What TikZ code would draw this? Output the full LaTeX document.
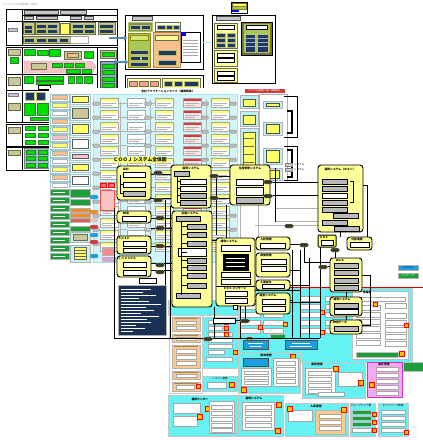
\documentclass[tikz,border=0pt]{standalone}
\usepackage{fontspec}
\newfontfamily\jp{Noto Sans CJK JP}
\usetikzlibrary{arrows.meta}
\definecolor{navy}{HTML}{1F3864}
\definecolor{nvb}{HTML}{B8C26A}
\definecolor{lime}{HTML}{00E000}
\definecolor{dgreen}{HTML}{2E7D32}
\definecolor{khaki}{HTML}{C8C89A}
\definecolor{khakid}{HTML}{6E6E46}
\definecolor{ylw}{HTML}{FFFF99}
\definecolor{ylwb}{HTML}{FFFF66}
\definecolor{peach}{HTML}{F8C08C}
\definecolor{pinkc}{HTML}{F4C4C4}
\definecolor{steel}{HTML}{5A86B8}
\definecolor{ygreen}{HTML}{A8C95A}
\definecolor{lcyan}{HTML}{D2F5FA}
\definecolor{mcyan}{HTML}{9FE9F2}
\definecolor{bcyan}{HTML}{66F2F2}
\definecolor{sgreen}{HTML}{1E9E3A}
\definecolor{orng}{HTML}{F9C98E}
\definecolor{orngd}{HTML}{C08040}
\definecolor{orngb}{HTML}{F28C28}
\definecolor{dbol}{HTML}{3A3A22}
\definecolor{bblue}{HTML}{1AA0E0}
\definecolor{mag}{HTML}{F7A6F2}
\definecolor{magd}{HTML}{CC33CC}
\definecolor{redh}{HTML}{D23A3A}
\definecolor{badgeo}{HTML}{FFC000}
\definecolor{gbl}{HTML}{8CA8CC}
\newcommand\bx[3]{\path[#1] (#2) rectangle ++(#3);}
\begin{document}
\begin{tikzpicture}[x=1pt,y=-1pt,
 frame/.style={draw=black,line width=0.7pt,fill=white},
 nv/.style={fill=navy,draw=nvb,line width=0.4pt},
 gr/.style={fill=lime,draw=dgreen,line width=0.3pt},
 kh/.style={fill=khaki,draw=khakid,line width=0.4pt},
 gh/.style={fill=gray!45,draw=gray!60!black,line width=0.3pt},
 wb/.style={fill=white,draw=gray!70,line width=0.3pt},
 wbk/.style={fill=white,draw=black,line width=0.4pt},
 gbk/.style={fill=gray!55,draw=black,line width=0.4pt},
 grp/.style={fill=ylw,draw=black,line width=0.9pt,rounded corners=3pt},
 db/.style={fill=dbol,draw=gray!50,line width=0.3pt,rounded corners=1.5pt},
 cyb/.style={fill=mcyan,draw=gray!50,line width=0.3pt},
 cyp/.style={fill=bcyan,draw=gray!45,line width=0.5pt},
 bdg/.style={fill=badgeo,draw=red,line width=0.4pt},
 conn/.style={draw=black,line width=0.35pt},
 gconn/.style={draw=gray!60,line width=0.35pt},
 tt/.style={font=\jp\fontsize{2.6}{3}\selectfont,inner sep=0pt},
 ht/.style={font=\jp\bfseries\fontsize{2.8}{3}\selectfont,inner sep=0pt},
]
\useasboundingbox (0,0) rectangle (423,440);
\fill[white] (0,0) rectangle (423,440);
\node[tt,anchor=west,text=gray!80] (cap) at (3,4.5) {ITシステム全体構成図（現状）};

% ================= Frame A
\bx{frame}{6,9}{111,36}
\draw[line width=0.5pt] (22,9)--(22,45) (22,15)--(117,15) (6,21)--(117,21);
\bx{gh}{24,10.5}{34,3.5}
\bx{gh}{60,10.5}{26,3.5}
\bx{gh}{24,16.5}{9,3}
\bx{gh}{36,16.5}{21,3}
\bx{gh}{70,16.5}{11,3}
\bx{gh}{84,16.5}{9,3}
\bx{fill=gbl!60,draw=gray}{8,28}{9,3}
\bx{kh}{23,22}{11,12}
\bx{nv}{24.5,25}{8,4} \bx{nv}{24.5,29.5}{8,4}
\bx{kh}{35,22}{24,12}
\bx{nv}{36.5,24}{10,4} \bx{nv}{47.5,24}{10,4} \bx{nv}{36.5,29}{10,4} \bx{nv}{47.5,29}{10,4}
\bx{fill=ylwb,draw=khakid,line width=0.4pt}{60,23}{9,11}
\bx{kh}{70.5,22.5}{25,11.5}
\bx{nv}{72,24}{11,4} \bx{nv}{84,24}{10,4} \bx{nv}{72,29}{11,4} \bx{nv}{84,29}{10,4}
\bx{kh}{98,22.5}{17,11.5}
\bx{nv}{99.5,24.5}{14,4} \bx{nv}{99.5,29}{14,4}
\bx{kh}{23,36.5}{47,7}
\bx{nv}{24.5,38}{10,4} \bx{nv}{36,38}{10,4} \bx{nv}{47.5,38}{10,4} \bx{nv}{59,38}{9.5,4}
\bx{wb}{70.5,36}{18,7}

% ================= Frame B
\bx{frame}{6,47}{111,43}
\draw[line width=0.5pt] (22,47)--(22,90) (6,74)--(97,74) (97,47)--(97,90);
\bx{kh}{8,49}{12,6} \bx{gr}{10,57}{8,6} \bx{kh}{8,77}{12,8}
\bx{gr}{24,49}{11,6} \bx{gr}{37,50}{11,5} \bx{gr}{49,49}{11,7}
\bx{kh}{64,51}{17,8} \bx{fill=peach,draw=khakid,line width=0.3pt}{67,53}{11,4}
\bx{gr}{84,51}{9,7}
\path[fill=pinkc,draw=gray!60,line width=0.3pt] (24,61)--(92,61)--(96,67)--(92,73)--(24,73)--cycle;
\bx{kh}{31,63.5}{15,6}
\bx{gr}{52,63}{10,4} \bx{gr}{64,63}{9,4} \bx{gr}{75,63}{9,4} \bx{gr}{66,69}{14,4} \bx{gr}{82,69}{9,4}
\bx{gr}{24,76.5}{9,7} \bx{gr}{36,76.5}{27,4} \bx{gr}{36,81.5}{27,3}
\bx{gr}{68,76.5}{6,7} \bx{gr}{76,76.5}{6,7} \bx{gr}{84,76.5}{8,7}
\bx{wbk}{38,85}{12,4}
\bx{kh}{100,50}{16,8} \bx{gr}{102,52}{12,4}
\bx{fill=gbl,draw=gray!60!black,line width=0.4pt}{100,61}{16,27}
\bx{gr}{102,64}{12,4} \bx{gr}{102,70}{12,4} \bx{gr}{102,77}{12,4} \bx{gr}{102,83}{12,4}

% ================= Frame C, D, E
\bx{frame}{6,90}{111,32}
\draw[line width=0.5pt] (22,90)--(22,122);
\bx{fill=gbl!60,draw=gray}{8,93}{10,3.5} \bx{kh}{8,103}{12,7}
\bx{nv}{25,92}{9,8} \bx{nv}{36,92}{9,8}
\bx{gr}{24,103}{11,12} \bx{gr}{37,103}{11,12} \bx{gr}{30,117}{18,3}
\bx{frame}{6,124}{111,22}
\draw[line width=0.5pt] (22,124)--(22,146);
\bx{kh}{8,127}{12,6}
\foreach \yy in {126,133,140}{\bx{gr}{25,\yy}{10,4} \bx{gr}{38,\yy}{10,4}}
\bx{frame}{6,147}{111,23}
\draw[line width=0.5pt] (22,147)--(22,170);
\bx{kh}{8,150}{12,5}
\bx{fill=gbl!80,draw=gray}{24,148.5}{25,20}
\foreach \yy in {150,156.5,163}{\bx{gr}{26,\yy}{9,4} \bx{gr}{38,\yy}{9,4}}

% ================= Top middle frame
\bx{frame}{125,15}{78,54}
\bx{gh}{132,16}{20,4}
\bx{fill=khakid!80,draw=ygreen,line width=0.5pt}{128,22}{24,9}
\bx{nv}{130,25}{10,4.5} \bx{nv}{141,25}{9,4.5}
\bx{fill=white,draw=khakid,line width=0.6pt}{155,22}{25,9}
\bx{nv}{157,25}{8,4.5} \bx{nv}{166,25}{6,4.5} \bx{nv}{173,25}{6,4.5}
\bx{fill=ygreen,draw=olive,line width=0.5pt}{128,33}{22,34}
\bx{fill=ygreen!50!ylw,draw=olive,line width=0.3pt}{130,35}{18,5}
\bx{nv}{130,50}{18,4} \bx{nv}{130,56}{10,4.5} \bx{nv}{141,56}{7,4.5} \bx{nv}{130,62}{18,4}
\bx{fill=peach,draw=orngd,line width=0.5pt}{153,32}{27,35}
\bx{fill=ylw,draw=khakid,line width=0.3pt}{155,35}{23,5}
\bx{nv}{158,50}{18,5} \bx{nv}{158,60}{18,5}
\bx{fill=white,draw=black,line width=0.4pt}{181,32}{19,30}
\foreach \yy in {40,43,46,49,52,55}{\draw[gray!70,line width=0.3pt] (183,\yy)--(198,\yy);}
\bx{fill=blue,draw=none}{181,32}{5,4}
\draw[mcyan,line width=0.3pt] (203,42)--(212,42);
\coordinate (aA1) at (109,38); \coordinate (aA2) at (127,38);
\coordinate (aB1) at (113,62); \coordinate (aB2) at (128,62);
\draw[steel,line width=2.2pt,-{Triangle[length=3pt,width=5.5pt]}] (aA1)--(aA2);
\draw[steel,line width=2.6pt,{Triangle[length=3pt,width=6pt]}-{Triangle[length=3pt,width=6pt]}] (aB1)--(aB2);

\bx{frame}{125,75}{78,17}
\bx{fill=ylw!60,draw=khakid,line width=0.4pt}{127,78}{33,10}
\bx{fill=pinkc!80!red,draw=khakid,line width=0.3pt}{129,81}{8,5}
\bx{fill=pinkc!80!red,draw=khakid,line width=0.3pt}{139,81}{9,5}
\bx{fill=pinkc!80!red,draw=khakid,line width=0.3pt}{150,81}{8,5}
\bx{fill=ylw,draw=khakid,line width=0.4pt}{162,78}{38,10}
\bx{nv}{164,81}{8,5} \bx{nv}{174,81}{8,5} \bx{nv}{184,81}{14,5}

% ================= Top right frame + legend
\bx{frame}{212,15}{63,68}
\bx{gh}{216,16}{24,4}
\bx{fill=ylw,draw=khakid,line width=0.5pt}{214,23}{23,25}
\bx{wbk}{217,25.5}{17,4}
\foreach \yy in {33,38,43}{\bx{nv}{216,\yy}{9,4} \bx{nv}{227,\yy}{8,4}}
\bx{fill=khakid,draw=black,line width=0.4pt}{241,22}{31,33}
\bx{fill=ygreen,draw=olive,line width=0.4pt}{243,23.5}{27,29}
\bx{wbk}{246,25}{21,4}
\bx{nv}{245,34}{10,18} \bx{nv}{257,34}{11,18}
\foreach \yy in {38,42,46}{\draw[white!60!navy,line width=0.3pt] (245,\yy)--(255,\yy) (257,\yy)--(268,\yy);}
\bx{fill=ylw,draw=khakid,line width=0.5pt}{214,50}{23,16}
\bx{wbk}{217,53}{17,4} \bx{wbk}{217,58.5}{17,4}
\bx{fill=ylw,draw=khakid,line width=0.5pt}{214,68}{23,14}
\bx{wbk}{217,71}{17,4} \bx{wbk}{217,76}{17,4}
\bx{fill=white,draw=black,line width=0.5pt}{231,2}{16,11}
\bx{fill=ylwb,draw=khakid,line width=0.3pt}{232,3}{14,3}
\bx{fill=ygreen,draw=olive,line width=0.3pt}{232,6.5}{14,2.5}
\bx{fill=blue,draw=none}{232,9.8}{7,2.2}

% ================= Page 2 : application map
\fill[white] (49,88) rectangle (300,340);
\node[ht] (maptitle) at (168,91) {全社アプリケーションマップ（業務領域）};
\bx{fill=lcyan,draw=mcyan,line width=0.4pt}{93,94}{144,168}
% left column 1
\foreach \yy/\cc in {94/peach,102/ylwb,110/white,118/peach,126/ylwb,134/pinkc,142/ylwb,150/peach,158/white,166/ylwb,174/peach,182/white}{
 \path[fill=white,draw=mcyan!70!gray,line width=0.4pt] (50,\yy) rectangle ++(19,7);
 \path[fill=\cc,draw=gray!60,line width=0.2pt] (52,\yy+1.5) rectangle ++(15,4);}
\foreach \yy in {189,197,...,257}{
 \path[fill=sgreen,draw=gray!60,line width=0.3pt] (50,\yy) rectangle ++(19,6);
 \draw[white,line width=0.3pt] (53,\yy+3)--++(12,0);}
% left column 2
\foreach \yy/\hh/\cc in {94/10/ylwb,106/14/khaki,122/13/ylwb,137/13/white,152/8/pinkc,162/10/ylwb,174/12/white}{
 \path[fill=white,draw=mcyan!70!gray,line width=0.4pt] (70,\yy) rectangle ++(20,\hh);
 \path[fill=\cc,draw=gray!70!black,line width=0.3pt] (72,\yy+2) rectangle ++(16,\hh-4);}
\bx{fill=sgreen,draw=gray!60,line width=0.3pt}{70,189}{20,8}
\bx{fill=sgreen,draw=gray!60,line width=0.3pt}{70,199}{20,6}
\bx{fill=orngb,draw=gray!60,line width=0.3pt}{70,208}{20,4.5}
\bx{fill=orngb,draw=gray!60,line width=0.3pt}{70,213.5}{20,4}
\bx{fill=redh!80,draw=gray!60,line width=0.3pt}{70,218.5}{20,4}
\bx{fill=sgreen,draw=gray!60,line width=0.3pt}{70,226}{20,5}
\bx{fill=mcyan!60,draw=gray!60,line width=0.3pt}{70,232}{20,10}
\bx{kh}{73,234}{14,6}
\bx{fill=mcyan!60,draw=gray!60,line width=0.3pt}{70,245}{20,17}
\foreach \yy in {247,250,253,256}{\bx{fill=ylwb,draw=black!60,line width=0.2pt}{74,\yy}{12,2.6}}
% cards in cyan area
\foreach \cx/\hc/\bc in {100/ylwb/white,127/white/white,155/ylwb/white,183/redh/pinkc!40,211/ylwb/white}{
 \foreach \cy in {98,110,...,242}{
  \path[wb,fill=\bc] (\cx,\cy) rectangle ++(18,9);
  \path[fill=\hc,draw=none] (\cx+0.5,\cy+0.5) rectangle ++(17,2.3);
  \draw[gray!60,line width=0.3pt] (\cx+2,\cy+5) -- ++(14,0) (\cx+2,\cy+7) -- ++(10,0);}}
\foreach \ex in {96,148,205,233}{
 \foreach \ey in {102,116,...,242}{
  \path[fill=gray!50,draw=gray!70!black,line width=0.2pt,rounded corners=1pt] (\ex-3.5,\ey) rectangle ++(7,3.2);}}
\foreach \ey in {103.6,117.6,...,243.6}{
 \draw[gconn] (118,\ey)--(127,\ey) (151.5,\ey)--(155,\ey) (201,\ey)--(208.5,\ey) (229,\ey)--(236.5,\ey);}
\draw[gconn] (150,100)--(150,250) (206,100)--(206,250) (120,102)--(120,245);
% right column of page 2
\bx{fill=redh,draw=none}{245,88.5}{40,4.5}
\node[tt,text=white] (redlbl) at (265,90.8) {システム連携一覧（業務系）};
\foreach \yy/\hh in {95/13,111/15,128/47,178/18}{
 \path[fill=mcyan!70,draw=gray!60,line width=0.4pt] (240,\yy) rectangle ++(18,\hh);
 \path[fill=ylwb,draw=gray!70!black,line width=0.3pt] (243,\yy+4) rectangle ++(12,\hh-6);}
\foreach \yy in {138,146,154,162}{\draw[black!60,line width=0.3pt] (244,\yy)--(254,\yy);}
\bx{fill=white,draw=gray!60,line width=0.3pt}{259,94}{28,88}
\foreach \yy/\hh in {101/7,122/13,148/16,168/12}{
 \path[fill=mcyan!70,draw=gray!60,line width=0.4pt] (263,\yy) rectangle ++(19,\hh);
 \path[fill=ylwb,draw=black!70,line width=0.3pt] (266,\yy+2.5) rectangle ++(13,\hh-4.5);}
\draw[black,line width=0.7pt] (284,96)--(297,96)--(297,137)--(284,137);
\draw[black,line width=1.2pt] (287,111)--(292,111)--(292,133)--(287,133);
\draw[black,line width=0.7pt] (284,146)--(297,146)--(297,180)--(284,180);
\draw[black,line width=1.2pt] (287,150)--(292,150)--(292,177)--(287,177);
\bx{fill=gray!40,draw=gray,line width=0.3pt}{285,163}{7,3} \bx{fill=gray!40,draw=gray,line width=0.3pt}{285,168}{7,3}
\node[tt,anchor=west] (bl1) at (294,164.5) {システム};
\node[tt,anchor=west] (bl2) at (294,169.5) {システム};

% ================= Bottom page
\bx{cyp}{238,288}{174,74}
\bx{fill=white,draw=gray!50,line width=0.4pt}{352,291}{56,68}
\node[ht] (t-joho) at (367,292.5) {情報系};
\bx{wb}{355,297}{50,4}
\foreach \yy in {305,312,319,326,333,340}{\bx{wb}{356,\yy}{24,5}}
\foreach \yy in {303,313,320,327,334,341}{\bx{wb}{385,\yy}{21,5}}
\bx{fill=sgreen,draw=gray!50,line width=0.3pt}{356,352}{42,5}
\bx{bdg}{399,351}{5,5} \bx{bdg}{373,302}{4,4} \bx{bdg}{404,323}{4,4}
\foreach \xx in {240,263,300,325}{
 \foreach \yy in {296,304,312,320,328}{\bx{wb}{\xx,\yy}{20,5}}}
\foreach \xx/\yy in {258/325,283/322,320/310,320/330,247/337}{\bx{bdg}{\xx,\yy}{4.5,4.5}}
\bx{fill=bblue,draw=gray!60!black,line width=0.4pt}{243,340}{25,9}
\bx{fill=bblue,draw=gray!60!black,line width=0.4pt}{285,340}{32,9}
\draw[white,line width=0.3pt] (248,343.5)--(263,343.5) (250,346)--(261,346) (292,343.5)--(310,343.5) (290,346)--(312,346);
\bx{fill=sgreen,draw=gray!50,line width=0.3pt}{270,334}{15,4}
% left part of bottom page
\bx{cyp}{168,300}{70,15}
\bx{fill=white,draw=gray!40,line width=0.3pt}{169,315}{33,78}
\foreach \yy/\hh in {317/14,334/8,345/23,371/8,382/9}{
 \path[fill=orng,draw=gray!60,line width=0.4pt] (172,\yy) rectangle ++(28,\hh);
 \draw[orngd,line width=0.3pt] (174,\yy+1.5)--(198,\yy+1.5);}
\bx{wb}{176,321}{20,3.5} \bx{wb}{176,326}{20,3.5}
\bx{wb}{176,337}{20,3.5}
\bx{wb}{176,349}{20,4} \bx{wb}{176,355}{20,4} \bx{wb}{176,361}{20,4}
\bx{wb}{176,374}{20,3.5}
\bx{wb}{176,385.5}{18,3.5} \bx{bdg}{196,384}{4.5,4.5}
\bx{cyp}{203,317}{34,51}
\foreach \yy/\ww in {320/14,326/14,332/24,338/24,344/24,350/16}{\bx{wb}{208,\yy}{\ww,4.5}}
\bx{wb}{206,357}{26,4}
\foreach \yy in {320,326,332}{\bx{bdg}{224,\yy}{4.5,4.5}}
\bx{bdg}{233,350}{4.5,4.5}
\bx{cyp}{203,376}{34,15}
\node[tt] (t-gyomu) at (220,378.5) {ＣＯＯＪ業務};
\bx{wb}{207,382}{19,6} \bx{bdg}{229,382}{5,5}
\bx{bdg}{238,385}{4.5,4.5}
\bx{cyp}{168,395}{69,41}
\node[ht] (t-kikan) at (200,399) {基幹センター};
\bx{wb}{173,403}{27,10} \bx{wb}{173,416}{24,10}
\bx{bdg}{205,406}{5,5} \bx{bdg}{197,414}{5,5}
\bx{wb}{209,401}{25,32}
\foreach \yy in {405,411,417,423,428}{\bx{wb}{211,\yy}{21,4}}
% middle part of bottom page
\bx{cyp}{238,352}{62,41}
\node[ht] (t-butsu) at (266,355) {物流管理};
\bx{bdg}{290,354}{5,5}
\bx{fill=bblue,draw=gray!60!black,line width=0.4pt}{243,358}{25,8}
\bx{wb}{241,368}{30,18}
\foreach \yy in {371,376,381}{\bx{wb}{244,\yy}{24,3.5}}
\bx{wb}{273,358}{25,28}
\foreach \yy in {361,367,373,379}{\bx{wb}{276,\yy}{19,4}}
\bx{bdg}{241,387}{5,5}
\bx{cyp}{302,362}{63,36}
\node[ht] (t-hanbai) at (317,364.5) {販売管理};
\bx{wb}{305,368}{30,26}
\foreach \yy in {371,377,383,389}{\bx{wb}{308,\yy}{23,4}}
\bx{bdg}{333,366}{5,5}
\bx{wb}{338,372}{24,14}
\bx{bdg}{358,380}{5,5}
\bx{wb}{318,392}{26,4}
\bx{fill=mag,draw=magd,line width=0.6pt}{367,362}{35,35}
\node[ht] (t-kanri) at (384,364.5) {会計管理};
\foreach \yy in {367,373,379,385,391}{\bx{wb}{376,\yy}{22,4}}
\bx{bdg}{369,382}{5,5}
\bx{fill=sgreen,draw=gray!50,line width=0.3pt}{403,362}{20,9}
\bx{cyp}{238,395}{45,41}
\node[ht] (t-kikansys) at (254,398) {基幹システム};
\bx{wb}{242,402}{32,28}
\foreach \yy in {405,411,417,423}{\bx{wb}{245,\yy}{26,4}}
\bx{bdg}{276,402}{5,5} \bx{bdg}{275,428}{5,5}
\bx{cyp}{285,403}{63,33}
\node[ht] (t-jinji) at (316,406) {人事管理};
\bx{wb}{288,410}{24,11}
\bx{fill=orng,draw=gray!60,line width=0.4pt}{315,410}{30,24}
\foreach \yy in {414,420,426}{\bx{wb}{319,\yy}{22,4}}
\bx{bdg}{287,406}{5,5} \bx{bdg}{341,407}{5,5}
\bx{cyp}{350,403}{25,33}
\node[tt] (t-gw) at (361,406) {グループウェア類};
\foreach \yy in {410,416,422}{\bx{fill=sgreen,draw=gray!50,line width=0.3pt}{352,\yy}{19,4.5}}
\bx{wb}{352,428}{19,4.5}
\foreach \yy in {412,420,428}{\bx{bdg}{372,\yy}{4.5,4.5}}
\bx{cyp}{378,403}{30,33}
\node[tt] (t-nw) at (393,406) {ネットワーク関連};
\foreach \yy in {410,416,422,428}{\bx{wb}{381,\yy}{24,4.5}}
\bx{bdg}{404,430}{4.5,4.5}
% red line and legend
\draw[red!85!black,line width=1pt] (290,287)--(423,287);
\bx{fill=bblue,draw=gray!60,line width=0.3pt}{398,265}{20,5.5}
\bx{fill=sgreen,draw=gray!60,line width=0.3pt}{398,273}{20,5.5}
\node[tt] (lg1) at (408,267.7) {システム};
\node[tt,text=white] (lg2) at (408,275.7) {パッケージ};

% ================= COOJ overview page (overlay)
\node[font=\jp\bfseries\fontsize{4.8}{5}\selectfont,fill=ylwb,inner sep=0.6pt] (cooj) at (140,160) {ＣＯＯＪ\,システム全体図};
% left small boxes
\foreach \xx in {100,108}{\bx{fill=redh!70,draw=red,line width=0.3pt}{\xx,183}{6,4}}
\bx{fill=pinkc,draw=red!70,line width=0.4pt}{100,190}{14,20}
\foreach \yy/\cc in {195/bblue,210/orngb,218/pinkc,225/redh,233/bblue,240/redh,254/bblue}{
 \path[fill=\cc,draw=gray!60,line width=0.3pt,rounded corners=1pt] (90,\yy) rectangle ++(8,4);}
\bx{fill=pinkc!70!red,draw=gray!60,line width=0.3pt}{102,248}{12,7}
\bx{fill=violet!35,draw=none}{102,257}{14,5}
% frame lines
\coordinate (fL1) at (114,208); \coordinate (fL2) at (114,338); \coordinate (fR) at (320,338);
\draw[black,line width=0.8pt] (fL1)--(fL2)--(fR);
% connectors
\draw[conn] (270,182)--(318,182) (270,195)--(318,195);
\draw[gconn] (275,208)--(322,208) (275,221)--(322,221);
\draw[conn] (275,168)--(275,222);
\draw[conn] (363,185)--(367,185)--(367,250);
\draw[conn] (340,232)--(340,237) (304,244)--(290,244) (304,246)--(304,262)--(330,262);
\draw[conn] (323,266)--(330,266) (335,249)--(335,258);
\draw[conn] (292,250)--(292,338) (300,250)--(300,338) (309,258)--(309,338) (320,247)--(320,338);
\draw[conn] (151,174)--(172,174) (151,198)--(172,198) (151,218)--(172,218) (151,228)--(172,228);
\draw[conn] (151,246)--(172,246) (151,263)--(172,263) (151,270)--(172,270);
\draw[conn] (211,176)--(230,176) (211,198)--(230,198) (212,240)--(216,240);
\draw[conn] (216,176)--(216,235) (226,205)--(226,238) (165,200)--(165,300) (170,206)--(170,338);
\draw[conn] (255,290)--(300,290) (255,300)--(292,300) (245,306)--(245,320)--(250,320);
\draw[conn] (214,307)--(214,338) (240,305)--(240,338) (230,320)--(245,320);
\draw[conn] (290,270)--(300,270) (290,285)--(309,285) (290,302)--(320,302);
\draw[conn] (362,275)--(370,275)--(370,325)--(362,325) (346,292)--(346,297) (346,316)--(346,320);
\draw[gconn] (255,225)--(318,225) (240,205)--(240,238) (258,205)--(258,237);
% groups
\path[grp] (117,166) rectangle (151,200);
\node[ht] (g1h) at (126,169) {会計};
\bx{wbk}{123,172}{22,5} \bx{wbk}{123,182}{22,5} \bx{gbk}{123,191}{22,5}
\draw[conn] (120,174.5)--(120,193.5) (120,184.5)--(123,184.5) (120,193.5)--(123,193.5);
\path[grp] (171,165) rectangle (211,208);
\node[ht] (g2h) at (191,168) {販売システム};
\bx{gbk}{174,171}{15,5} \bx{wbk}{180,179}{26,5} \bx{wbk}{180,186}{26,5} \bx{gbk}{180,193}{26,5} \bx{gbk}{180,200}{26,5}
\draw[conn] (177,176)--(177,202.5) (177,181.5)--(180,181.5) (177,188.5)--(180,188.5) (177,195.5)--(180,195.5) (177,202.5)--(180,202.5);
\path[grp] (230,165) rectangle (270,205);
\node[ht] (g3h) at (250,168.5) {生産管理システム};
\bx{wbk}{236,179}{27,6} \bx{wbk}{236,187}{27,8} \bx{gbk}{236,197}{27,6}
\path[grp] (318,165) rectangle (363,232);
\node[ht] (g4h) at (340,169) {基幹システム（ホスト）};
\foreach \xx/\yy in {322/179,322/186,322/200,322/207,333/213,322/220,334/226}{\bx{gbk}{\xx,\yy}{25,5}}
\bx{wbk}{322,193}{25,5}
\draw[conn] (350,181.5)--(353,181.5)--(353,202.5)--(350,202.5);
\path[grp] (117,211) rectangle (151,223);
\node[ht] (g6h) at (126,213.5) {物流};
\bx{wbk}{122,216}{24,5}
\path[grp] (117,236) rectangle (151,254);
\node[ht] (g7h) at (124,238.5) {ＣＯＳＰ};
\bx{wbk}{123,241}{23,5} \bx{wbk}{123,248}{23,4.5}
\path[grp] (117,256) rectangle (151,277);
\node[ht] (g8h) at (127,258.5) {Ｌ-ＣＯＳＰＡ};
\bx{wbk}{123,262}{23,5} \bx{wbk}{123,270}{23,5}
\path[grp] (172,211) rectangle (212,307);
\node[ht] (g5h) at (190,213.5) {生産システム};
\bx{gbk}{176,216}{24,5}
\foreach \yy in {224,232,241,258,265,273,283}{\bx{gbk}{187,\yy}{19,5}}
\bx{wbk}{178,248}{28,8} \bx{gbk}{176,293}{24,5}
\draw[conn] (181,221)--(181,295);
\foreach \yy in {226.5,234.5,243.5,252,260.5,267.5,275.5,285.5}{\draw[conn] (181,\yy)--(187,\yy);}
\path[grp] (216,238) rectangle (255,306);
\node[ht] (g9h) at (229,241) {開発システム};
\bx{wbk}{221,245}{29,6}
\bx{fill=black,draw=black}{223,254}{25,16}
\foreach \yy in {258,262,266}{\draw[white,line width=0.5pt] (226,\yy)--(245,\yy);}
\bx{wbk}{221,272}{29,5} \bx{wbk}{221,279}{29,5}
\draw[black,line width=0.6pt] (216,286)--(255,286);
\node[ht] (g9s) at (235,288.5) {ＥＤＩ パッケージ};
\bx{wbk}{225,291}{22,5} \bx{wbk}{225,298}{22,5}
\bx{fill=white,draw=black,line width=0.4pt}{233,305}{4,4}
\path[grp] (256,237) rectangle (290,250);
\node[ht] (g10ah) at (266,239.5) {人材管理};
\bx{wbk}{260,243}{25,5}
\path[grp] (256,253) rectangle (290,277);
\node[ht] (g10bh) at (266,255.5) {原価管理};
\bx{wbk}{261,259}{25,5} \bx{wbk}{261,266}{25,5}
\path[grp] (256,280) rectangle (290,290);
\node[ht] (g10ch) at (266,282.3) {人事給与};
\bx{wbk}{262,284.5}{22,4}
\path[grp] (256,293) rectangle (290,314);
\node[ht] (g10dh) at (268,295.5) {経営システム};
\bx{wbk}{262,299}{23,5} \bx{wbk}{262,306.5}{23,5}
\path[fill=ylwb,draw=black,line width=1pt,rounded corners=1pt] (318,235) rectangle (336,247);
\node[ht] (g11h) at (324,237.5) {ＥＤＩ};
\bx{wbk}{321,240}{12,5}
\path[grp] (347,237) rectangle (372,250);
\node[ht] (g12h) at (357,239.5) {外部連携};
\bx{wbk}{350,242}{19,5}
\path[grp] (330,258) rectangle (362,292);
\node[ht] (g13h) at (340,260.5) {Ｗｅｂ};
\foreach \yy in {263,270.5,278,285}{\bx{gbk}{334,\yy}{24,5}}
\path[grp] (330,297) rectangle (362,316);
\node[ht] (g14h) at (342,299.5) {販売システム};
\bx{gbk}{334,303}{24,5} \bx{wbk}{334,309.5}{24,5}
\path[grp] (330,320) rectangle (362,334);
\node[ht] (g15h) at (340,322.5) {物流データ};
\bx{gbk}{334,326}{24,5}
% db nodes
\foreach \xx/\yy in {158/171,158/198,160/216,160/226,160/244,160/263,160/270,214/174,214/196,268/180,268/194,304/243,335/248,323/265,245/319,208/337,289/224}{
 \path[db] (\xx-4.5,\yy) rectangle ++(9,4);}
% navy list box
\bx{fill=navy!85!black,draw=gray!60,line width=0.5pt}{118,285}{48,50}
\foreach \yy/\ll in {289/30,292/22,295/35,298/18,301/28,304/40,307/25,310/33,313/20,316/38,319/26,322/30,325/15,328/24,331/12}{
 \draw[white,line width=0.5pt] (121,\yy)--++(\ll,0);}
\bx{wbk}{139,278}{17,5}
\bx{wbk}{213,318}{22,5}
\end{tikzpicture}
\end{document}
